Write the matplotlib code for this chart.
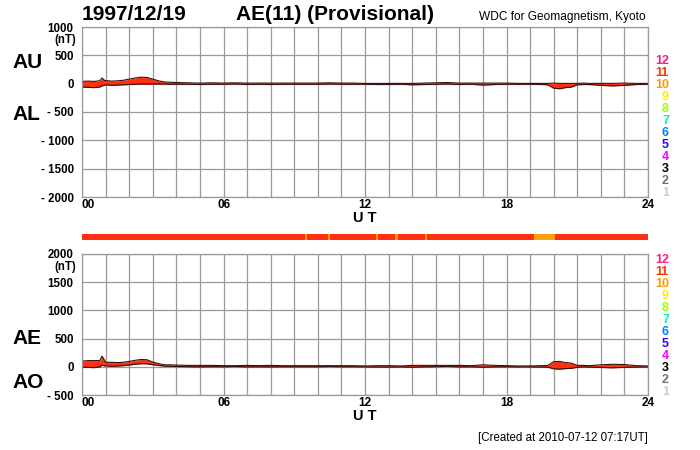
import matplotlib
matplotlib.use("Agg")
import matplotlib.pyplot as plt
import numpy as np

plt.rcParams['font.family'] = ['Liberation Sans', 'DejaVu Sans']

# UT hours of the sampled values
ut = [0, 0.25, 0.5, 0.75, 0.85, 0.95, 1.0, 1.25, 1.5, 1.75, 2.0, 2.25, 2.5, 2.75,
      3.0, 3.25, 3.5, 3.75, 4.0, 4.5, 5.0, 5.5, 6.0, 6.5, 7.0, 7.5, 8.0, 8.5, 9.0,
      9.5, 10.0, 10.5, 11.0, 11.5, 12.0, 12.5, 13.0, 13.5, 14.0, 14.5, 15.0, 15.5,
      16.0, 16.5, 17.0, 17.5, 18.0, 18.5, 19.0, 19.5, 19.75, 20.0, 20.25, 20.5,
      20.75, 21.0, 21.25, 21.5, 22.0, 22.5, 23.0, 23.5, 24.0]

au = [40, 45, 40, 50, 100, 60, 55, 45, 50, 60, 80, 100, 115, 110,
      80, 50, 30, 25, 20, 15, 10, 15, 10, 15, 10, 10, 10, 10, 10,
      10, 10, 15, 10, 10, 5, 5, 5, 5, 5, 10, 15, 20,
      10, 10, 10, 10, 10, 5, 5, 5, 5, 10, 5, 5,
      5, 5, 10, 5, 5, 5, 10, 5, 5]

al = [-60, -65, -70, -60, -40, -30, -20, -30, -25, -20, -15, -10, -5, -5,
      -5, -5, -5, -10, -10, -10, -15, -10, -10, -5, -15, -10, -15, -10, -10,
      -10, -10, -5, -10, -10, -10, -15, -15, -10, -20, -15, -10, -5,
      -15, -10, -25, -15, -10, -10, -10, -15, -20, -80, -90, -70,
      -60, -20, -15, -15, -30, -40, -30, -15, -10]

ae = [100, 110, 110, 110, 190, 120, 80, 80, 75, 80, 95, 115, 130, 125,
      85, 55, 35, 35, 30, 25, 25, 25, 20, 20, 25, 20, 25, 20, 20,
      20, 20, 20, 20, 20, 15, 20, 20, 15, 25, 25, 25, 25,
      25, 20, 35, 25, 20, 15, 15, 20, 25, 90, 95, 75,
      65, 25, 25, 20, 35, 45, 40, 20, 15]

ao = [-10, -10, -15, -5, 30, 15, 18, 8, 12, 20, 32, 45, 55, 52,
      38, 22, 12, 8, 5, 2, -2, 2, 0, 5, -2, 0, -2, 0, 0,
      0, 0, 5, 0, 0, -2, -5, -5, -2, -8, -2, 2, 8,
      -2, 0, -8, -2, 0, -2, -2, -5, -8, -35, -42, -32,
      -28, -8, -2, -5, -12, -18, -10, -5, -2]

# hours where fewer stations were available (orange in status bar)
status_gaps = [(9.45, 9.55), (10.42, 10.52), (12.45, 12.55), (13.28, 13.38),
               (14.55, 14.65), (19.15, 20.05)]

station_nums = ['12', '11', '10', '9', '8', '7', '6', '5', '4', '3', '2', '1']
station_cols = ['#ff1a8c', '#ff3300', '#ff9900', '#ffee00', '#99ff00', '#00eebb',
                '#0080ff', '#3300ff', '#ff00ff', '#000000', '#707070', '#cccccc']

top_ticks = [-2000, -1500, -1000, -500, 0, 500, 1000]
bot_ticks = [-500, 0, 500, 1000, 1500, 2000]
hour_labels = ['00', '06', '12', '18', '24']

fill_col = '#ff3010'
grid_col = '#999999'

W, H = 700.0, 450.0
X0, X1 = 82, 648


def tick_text(v):
  if v < 0:
    return '- %d' % (-v)
  return '%d' % v


def setup_axes(fig, ax, ticks, y_top, y_bot):
  ax.set_xlim(0, 24)
  ax.set_ylim(ticks[0], ticks[-1])
  ax.set_xticks(range(0, 25))
  ax.set_xticklabels([])
  ax.set_yticks(ticks)
  labels = [tick_text(v) for v in ticks]
  ax.set_yticklabels(labels, fontsize=8.3, fontweight='bold')
  ax.tick_params(length=0, pad=6)
  ax.grid(True, color=grid_col, linewidth=0.9)
  for s in ax.spines.values():
    s.set_color(grid_col)
    s.set_linewidth(0.9)
  ax.set_axisbelow(True)
  for i, lab in enumerate(hour_labels):
    x = X0 + (X1 - X0) * i / 4.0
    fig.text(x / W, 1 - (y_bot + 8) / H, lab,
             ha='left' if i == 0 else 'center', va='center',
             fontsize=8.5, fontweight='bold')
  fig.text((X0 + X1) / 2 / W, 1 - (y_bot + 21) / H, 'U T',
           ha='center', va='center', fontsize=10.5, fontweight='bold')
  fig.text(76 / W, 1 - (y_top + 13) / H, '(nT)', ha='right', va='center',
           fontsize=8.3, fontweight='bold')


def station_column(fig, y_top, step):
  for i, (n, c) in enumerate(zip(station_nums, station_cols)):
    fig.text(669 / W, 1 - (y_top + i * step) / H, n, color=c,
             ha='right', va='center', fontsize=9, fontweight='bold')


fig = plt.figure(figsize=(7, 4.5), dpi=100)

ax1 = fig.add_axes([X0 / W, 1 - 197 / H, (X1 - X0) / W, 170 / H])
setup_axes(fig, ax1, top_ticks, 27, 197)
ax1.fill_between(ut, al, au, color=fill_col, linewidth=0)
ax1.plot(ut, au, color='#301010', linewidth=0.8)
ax1.plot(ut, al, color='#301010', linewidth=0.8)

ax2 = fig.add_axes([X0 / W, 1 - 395 / H, (X1 - X0) / W, 141 / H])
setup_axes(fig, ax2, bot_ticks, 254, 395)
ax2.fill_between(ut, ao, ae, color=fill_col, linewidth=0)
ax2.plot(ut, ae, color='#301010', linewidth=0.8)
ax2.plot(ut, ao, color='#301010', linewidth=0.8)

bar = fig.add_axes([X0 / W, 1 - 240 / H, (X1 - X0) / W, 6 / H])
bar.set_xlim(0, 24)
bar.set_ylim(0, 1)
bar.axvspan(0, 24, color=fill_col, linewidth=0)
for a, b in status_gaps:
  bar.axvspan(a, b, color='#ffa010', linewidth=0)
bar.set_xticks([])
bar.set_yticks([])
for s in bar.spines.values():
  s.set_visible(False)

fig.text(82 / W, 1 - 15 / H, '1997/12/19', fontsize=15, fontweight='bold',
         ha='left', va='center')
fig.text(236 / W, 1 - 15 / H, 'AE(11) (Provisional)', fontsize=15,
         fontweight='bold', ha='left', va='center')
fig.text(646 / W, 1 - 17 / H, 'WDC for Geomagnetism, Kyoto', fontsize=8.6,
         ha='right', va='center')

for lab, y in [('AU', 62), ('AL', 114), ('AE', 339), ('AO', 382)]:
  fig.text(12 / W, 1 - y / H, lab, fontsize=15, fontweight='bold',
           ha='left', va='center')

station_column(fig, 61, 12)
station_column(fig, 260, 12)

fig.text(648 / W, 1 - 438 / H, '[Created at 2010-07-12 07:17UT]', fontsize=8.3,
         ha='right', va='center')

fig.savefig('out.png', dpi=100)
